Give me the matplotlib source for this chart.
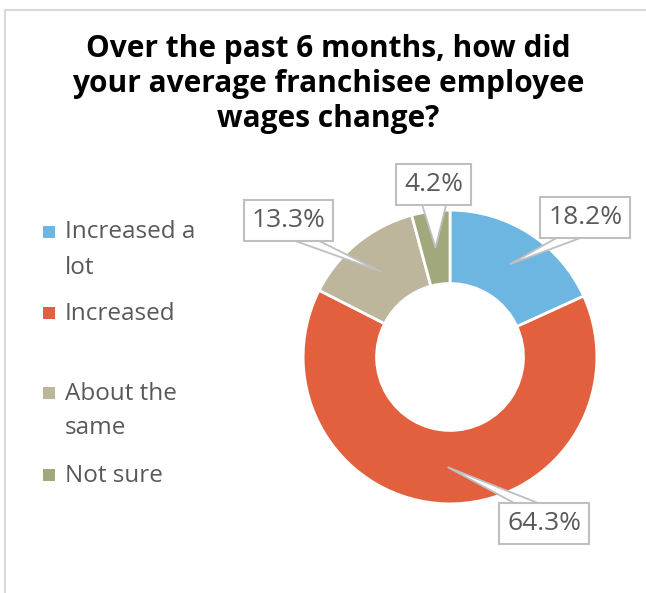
import matplotlib.pyplot as plt
from matplotlib.lines import Line2D
from matplotlib.patches import Rectangle, Polygon
from matplotlib.transforms import IdentityTransform
import numpy as np

categories = ['Increased a\nlot', 'Increased', 'About the\nsame', 'Not sure']
shares = [18.2, 64.3, 13.3, 4.2]
colors = ['#6EB6E2', '#E2603D', '#BEB59D', '#A0A87C']

# where each callout box sits (data coords of the pie axes)
label_pos = [(0.92, 0.95), (0.64, -1.135), (-1.10, 0.93), (-0.11, 1.175)]

plt.rcParams['font.family'] = ['Open Sans', 'DejaVu Sans']

W, H = 646, 593
fig = plt.figure(figsize=(W / 100, H / 100), dpi=100)


def fx(px):
    return px / W


def fy(py):
    return 1 - py / H


# thin chart-area frame
fig.add_artist(Line2D([fx(5), fx(5)], [0, fy(10)], color='#D9D9D9', lw=1.5))
fig.add_artist(Line2D([fx(5), 1], [fy(10), fy(10)], color='#D9D9D9', lw=1.5))

title_lines = ['Over the past 6 months, how did', 'your average franchisee employee', 'wages change?']
for i, line in enumerate(title_lines):
    fig.text(fx(328), fy(57 + 35 * i), line, ha='center', va='baseline',
             fontsize=21.5, fontweight='bold', color='black')

ax = fig.add_axes([0.3328, 0.0017, 0.7276, 0.7926])
wedges, _ = ax.pie(shares, colors=colors, startangle=90, counterclock=False,
                   radius=1, wedgeprops=dict(width=0.5, edgecolor='white', linewidth=2))
ax.set_xlim(-1.6, 1.6)
ax.set_ylim(-1.6, 1.6)
ax.set_aspect('equal')
ax.axis('off')

labels = []
tips = []
for w, val, pos in zip(wedges, shares, label_pos):
    mid = np.deg2rad((w.theta1 + w.theta2) / 2)
    tips.append((0.75 * np.cos(mid), 0.75 * np.sin(mid)))
    t = ax.text(pos[0], pos[1], f'{val:.1f}%', ha='center', va='center',
                fontsize=19, color='#595959', zorder=4,
                bbox=dict(boxstyle='square,pad=0.3', fc='white', ec='#BFBFBF', lw=1.5))
    labels.append(t)

# callout pointers: thin triangles from the box edge to a point in the slice
fig.canvas.draw()
renderer = fig.canvas.get_renderer()
half = 12
for t, tip in zip(labels, tips):
    bb = t.get_bbox_patch().get_window_extent(renderer)
    cx, cy = (bb.x0 + bb.x1) / 2, (bb.y0 + bb.y1) / 2
    tx, ty = ax.transData.transform(tip)
    dx, dy = tx - cx, ty - cy
    sx = bb.width / 2 / abs(dx) if dx else np.inf
    sy = bb.height / 2 / abs(dy) if dy else np.inf
    if sy <= sx:
        ey = cy + np.sign(dy) * bb.height / 2
        bx = (cx + (cx + sy * dx)) / 2
        bx = min(max(bx, bb.x0 + half), bb.x1 - half)
        base = [(bx - half, ey), (bx + half, ey)]
    else:
        ex = cx + np.sign(dx) * bb.width / 2
        by = (cy + (cy + sx * dy)) / 2
        by = min(max(by, bb.y0 + half), bb.y1 - half)
        base = [(ex, by - half), (ex, by + half)]
    ax.add_patch(Polygon(base + [(tx, ty)], closed=True, transform=IdentityTransform(),
                         fc='white', ec='#BFBFBF', lw=1.3, zorder=3, clip_on=False))

# legend drawn by hand so the long names can wrap
legend_y = [232, 313, 393, 475]
for name, c, y in zip(categories, colors, legend_y):
    fig.add_artist(Rectangle((fx(43), fy(y + 6)), fx(12), 12 / H,
                             transform=fig.transFigure, fc=c, ec='none'))
    for j, part in enumerate(name.split('\n')):
        fig.text(fx(65), fy(y + 6.5 + 35 * j), part, ha='left', va='baseline',
                 fontsize=17.5, color='#595959')

fig.savefig('out.png', dpi=100)
